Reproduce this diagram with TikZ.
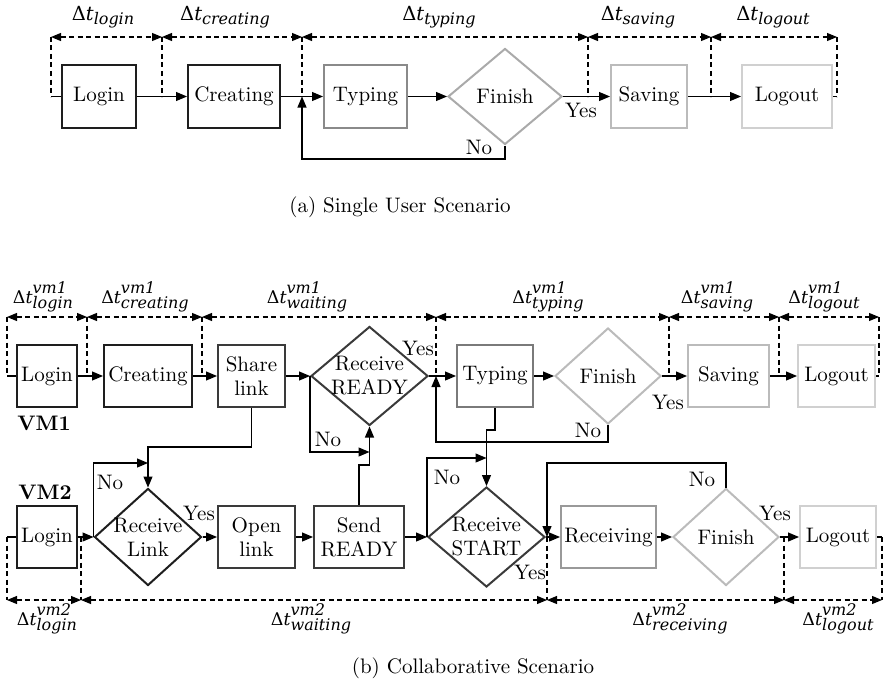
\documentclass[tikz,border=0pt]{standalone}
\usepackage{fontspec}
\setmainfont{lmroman10-regular.otf}[BoldFont=lmroman10-bold.otf, ItalicFont=lmroman10-italic.otf]
\newfontfamily\dfont{DejaVu Serif}
\usetikzlibrary{arrows.meta,shapes.geometric}
\definecolor{k1}{HTML}{1E1E1E}
\definecolor{k2}{HTML}{3A3A3A}
\definecolor{g1}{HTML}{7A7A7A}
\definecolor{ga}{HTML}{8A8A8A}
\definecolor{gb}{HTML}{AAAAAA}
\definecolor{g2}{HTML}{999999}
\definecolor{g3}{HTML}{BBBBBB}
\definecolor{g4}{HTML}{D0D0D0}
\newcommand{\scf}{\dfont\itshape\fontsize{16}{16}\selectfont}
\newcommand{\dtA}[1]{{\dfont\fontsize{19.5}{20}\selectfont Δ\itshape t}\raisebox{-3.5pt}{\scf #1}}
\newcommand{\dtB}[2]{{\dfont\fontsize{17.5}{18}\selectfont Δ\itshape t}\rlap{\raisebox{9.5pt}{\scf #2}}\raisebox{-5pt}{\scf #1}}
\tikzset{
  every node/.style={font=\fontsize{21}{24}\selectfont},
  box/.style={draw=#1, line width=2pt, rectangle, minimum height=62pt, inner sep=0pt, align=center},
  box/.default=k1,
  dia/.style={draw=#1, line width=2pt, diamond, inner sep=0pt},
  dia/.default=k1,
  lbl/.style={inner sep=0pt, align=center},
  conn/.style={line width=1.2pt, -{Triangle[length=11pt,width=9pt]}},
  plain/.style={line width=1.2pt},
  dsh/.style={line width=1.1pt, dash pattern=on 5pt off 3.5pt},
  spanarr/.style={dsh, {Triangle[length=10pt,width=8pt]}-{Triangle[length=10pt,width=8pt]}},
  dtl/.style={inner sep=0pt, anchor=base},
}
\begin{document}
\begin{tikzpicture}[x=1pt,y=-1pt]
\useasboundingbox (0,0) rectangle (883,685);

% ---------------- (a) ----------------
\node[box, minimum width=74pt] (aLogin) at (99,96.5) {Login};
\node[box, minimum width=92pt] (aCreating) at (234,96.5) {Creating};
\node[box=ga, minimum width=83pt] (aTyping) at (365.5,96.5) {Typing};
\node[dia=gb, minimum width=114pt, minimum height=96pt, label={[lbl]center:Finish}] (aFinish) at (505,96.5) {};
\node[box=g3, minimum width=76pt] (aSaving) at (649,96.5) {Saving};
\node[box=g4, minimum width=90pt] (aLogout) at (787,96.5) {Logout};

\coordinate (aT0) at (51,37);
\coordinate (aT1) at (162,37);
\coordinate (aT2) at (302,37);
\coordinate (aT3) at (588,37);
\coordinate (aT4) at (711,37);
\coordinate (aT5) at (837,37);

\draw[plain] (aT0 |- aLogin.west) -- (aLogin.west);
\draw[conn] (aLogin.east) -- (aCreating.west);
\draw[conn] (aCreating.east) -- (aTyping.west);
\draw[conn] (aTyping.east) -- (aFinish.west);
\draw[conn] (aFinish.east) -- (aSaving.west);
\draw[conn] (aSaving.east) -- (aLogout.west);
\draw[plain] (aLogout.east) -- (aT5 |- aLogout.east);
\coordinate (aFb) at (302,159);
\draw[conn] (aFinish.south) |- (aFb) -- (aT2 |- aTyping.west);

\foreach \i in {0,...,5} { \draw[dsh] (aT\i) -- (aT\i |- aLogin.west); }
\draw[spanarr] (aT0) -- (aT1);
\draw[spanarr] (aT1) -- (aT2);
\draw[spanarr] (aT2) -- (aT3);
\draw[spanarr] (aT3) -- (aT4);
\draw[spanarr] (aT4) -- (aT5);

\node[dtl] (aDl) at (103,21) {\dtA{login}};
\node[dtl] (aDc) at (225,21) {\dtA{creating}};
\node[dtl] (aDt) at (439,21) {\dtA{typing}};
\node[dtl] (aDs) at (638,21) {\dtA{saving}};
\node[dtl] (aDo) at (773,21) {\dtA{logout}};

\node[lbl] (aYes) at (581,110) {Yes};
\node[lbl] (aNo) at (479,147) {No};

\node[lbl] (capA) at (400,207) {(a) Single User Scenario};

% ---------------- (b) VM1 ----------------
\node[box, minimum width=60pt] (bLogin1) at (47,376) {Login};
\node[box, minimum width=88pt] (bCreating) at (148,376) {Creating};
\node[box=k2, minimum width=67pt] (bShare) at (251.5,376) {Share\\link};
\node[dia=k2, minimum width=117pt, minimum height=99pt, label={[lbl]center:Receive\\READY}] (bReady) at (369.5,376) {};
\node[box=g1, minimum width=76pt] (bTyping) at (495,376) {Typing};
\node[dia=g3, minimum width=106pt, minimum height=96pt, label={[lbl]center:Finish}] (bFinish1) at (608,376) {};
\node[box=g3, minimum width=81pt] (bSaving) at (728.5,376) {Saving};
\node[box=g4, minimum width=77pt] (bLogout1) at (836.5,376) {Logout};
\node[lbl, font=\fontsize{21}{24}\selectfont\bfseries] (vm1) at (44,423) {VM1};

\coordinate (bT0) at (7,317);
\coordinate (bT1) at (87,317);
\coordinate (bT2) at (202,317);
\coordinate (bT3) at (436,317);
\coordinate (bT4) at (669,317);
\coordinate (bT5) at (779,317);
\coordinate (bT6) at (879,317);

\draw[plain] (bT0 |- bLogin1.west) -- (bLogin1.west);
\draw[conn] (bLogin1.east) -- (bCreating.west);
\draw[conn] (bCreating.east) -- (bShare.west);
\draw[conn] (bShare.east) -- (bReady.west);
\draw[conn] (bReady.east) -- (bTyping.west);
\draw[conn] (bTyping.east) -- (bFinish1.west);
\draw[conn] (bFinish1.east) -- (bSaving.west);
\draw[conn] (bSaving.east) -- (bLogout1.west);
\draw[plain] (bLogout1.east) -- (bT6 |- bLogout1.east);
\coordinate (f1J) at (436,442);
\draw[conn] (bFinish1.south) |- (f1J) -- (bT3 |- bReady.east);

\foreach \i in {0,...,6} { \draw[dsh] (bT\i) -- (bT\i |- bLogin1.west); }
\draw[spanarr] (bT0) -- (bT1);
\draw[spanarr] (bT1) -- (bT2);
\draw[spanarr] (bT2) -- (bT3);
\draw[spanarr] (bT3) -- (bT4);
\draw[spanarr] (bT4) -- (bT5);
\draw[spanarr] (bT5) -- (bT6);

\node[dtl] (bDl1) at (43,303) {\dtB{login}{vm1}};
\node[dtl] (bDc1) at (145,303) {\dtB{creating}{vm1}};
\node[dtl] (bDw1) at (307,303) {\dtB{waiting}{vm1}};
\node[dtl] (bDt1) at (548,303) {\dtB{typing}{vm1}};
\node[dtl] (bDs1) at (717,303) {\dtB{saving}{vm1}};
\node[dtl] (bDo1) at (824,303) {\dtB{logout}{vm1}};

\node[lbl] (rYes) at (418,348) {Yes};
\node[lbl] (f1Yes) at (668,402) {Yes};
\node[lbl] (rNo) at (328,439) {No};
\node[lbl] (f1No) at (588,430) {No};

% ---------------- (b) VM2 ----------------
\node[box, minimum width=60pt] (bLogin2) at (47,537) {Login};
\node[dia, minimum width=107pt, minimum height=97pt, label={[lbl]center:Receive\\Link}] (bLink) at (148,537) {};
\node[box=k2, minimum width=77pt] (bOpen) at (256.5,537) {Open\\link};
\node[box=k2, minimum width=90pt] (bSend) at (359,537) {Send\\READY};
\node[dia=k2, minimum width=117pt, minimum height=100pt, label={[lbl]center:Receive\\START}] (bStart) at (486.5,537) {};
\node[box=g2, minimum width=95pt] (bReceiving) at (608.5,537) {Receiving};
\node[dia=g3, minimum width=106pt, minimum height=97pt, label={[lbl]center:Finish}] (bFinish2) at (726,537) {};
\node[box=g4, minimum width=76pt] (bLogout2) at (838,537) {Logout};
\node[lbl, font=\fontsize{21}{24}\selectfont\bfseries] (vm2) at (45,492) {VM2};

\coordinate (bB0) at (7,600);
\coordinate (bB1) at (81,600);
\coordinate (bB2) at (547,600);
\coordinate (bB3) at (784,600);
\coordinate (bB4) at (882,600);

\draw[plain] (bB0 |- bLogin2.west) -- (bLogin2.west);
\draw[conn] (bLogin2.east) -- (bLink.west);
\draw[conn] (bLink.east) -- (bOpen.west);
\draw[conn] (bOpen.east) -- (bSend.west);
\draw[conn] (bSend.east) -- (bStart.west);
\draw[conn] (bStart.east) -- (bReceiving.west);
\draw[conn] (bReceiving.east) -- (bFinish2.west);
\draw[conn] (bFinish2.east) -- (bLogout2.west);
\draw[plain] (bLogout2.east) -- (bB4 |- bLogout2.east);

\foreach \i in {0,...,4} { \draw[dsh] (bB\i |- bLogin2.west) -- (bB\i); }
\draw[spanarr] (bB0) -- (bB1);
\draw[spanarr] (bB1) -- (bB2);
\draw[spanarr] (bB2) -- (bB3);
\draw[spanarr] (bB3) -- (bB4);

% cross connections
\coordinate (shJ) at (148,447);
\draw[conn] (bShare.south) |- (shJ) -- (bLink.north);
\coordinate (rdJ) at (369.5,452);
\draw[conn] (bReady.west) |- (rdJ);
\coordinate (sdJ) at (359,465);
\draw[conn] (bSend.north) -- (sdJ) -| (bReady.south);
\coordinate (tyJ) at (495,430);
\draw[conn] (bTyping.south) -- (tyJ) -| (bStart.north);
\coordinate (stJ) at (486.5,458);
\draw[conn] (bStart.west) |- (stJ);
\coordinate (lkJ) at (148,463);
\draw[conn] (bLink.west) |- (lkJ);
\coordinate (f2J) at (547,463);
\draw[conn] (bFinish2.north) |- (f2J) -- (bB2 |- bStart.east);

\node[lbl] (lkNo) at (110,482) {No};
\node[lbl] (lkYes) at (199,513) {Yes};
\node[lbl] (stNo) at (447,477) {No};
\node[lbl] (stYes) at (530,572) {Yes};
\node[lbl] (f2No) at (702,479) {No};
\node[lbl] (f2Yes) at (775,513) {Yes};

\node[dtl] (bDl2) at (47,625) {\dtB{login}{vm2}};
\node[dtl] (bDw2) at (311,625) {\dtB{waiting}{vm2}};
\node[dtl] (bDr2) at (680,625) {\dtB{receiving}{vm2}};
\node[dtl] (bDo2) at (838,625) {\dtB{logout}{vm2}};

\node[lbl] (capB) at (473,668) {(b) Collaborative Scenario};
\end{tikzpicture}
\end{document}
